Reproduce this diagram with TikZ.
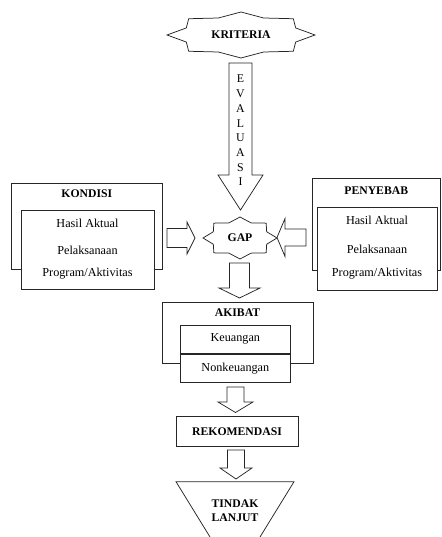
\documentclass[tikz,border=0pt]{standalone}
\usepackage{fontspec}
\setmainfont{Liberation Serif}
\usetikzlibrary{positioning, calc}

\newcommand{\blockarrow}[5]{%
	\coordinate (ba) at ($(#2)!#5!(#1)$);
	\draw[outline] ($(#1)!#3!90:(#2)$) -- ($(ba)!#3!90:(#2)$) -- ($(ba)!#4!90:(#2)$) -- (#2)
	-- ($(ba)!#4!-90:(#2)$) -- ($(ba)!#3!-90:(#2)$) -- ($(#1)!#3!-90:(#2)$) -- cycle;}

\newcommand{\eightstar}[4]{%
	\draw[outline, fill=none, shift={(#1)}] plot[domain=0:15, samples=16]
	({#2*cos(22.5*\x)*(1-(1-#4)*mod(round(\x),2))}, {#3*sin(22.5*\x)*(1-(1-#4)*mod(round(\x),2))}) -- cycle;}

\begin{document}
\begin{tikzpicture}[x=1pt, y=1pt,
	outline/.style={draw=black!85, line width=0.75pt, fill=white, line join=miter},
	frame/.style={outline, inner sep=0pt},
	head/.style={font=\fontsize{11.7}{14}\selectfont\bfseries},
	entry/.style={font=\fontsize{12.2}{14}\selectfont}]

	\useasboundingbox (0,0) rectangle (441,-537);

	\node[head] (kriteria) at (241,-35) {KRITERIA};
	\eightstar{kriteria}{74}{23}{0.8}

	\node[head] (gap) at (240,-238) {GAP};
	\eightstar{gap}{37}{21}{0.78}

	\coordinate (e-tail) at (240.5,-63);
	\coordinate (e-tip) at (240.5,-210);
	\blockarrow{e-tail}{e-tip}{11.5pt}{22.5pt}{35pt}
	\node[entry, align=center, font=\fontsize{11.8}{14.7}\selectfont] (evaluasi) at (240.5,-130.5) {E\\V\\A\\L\\U\\A\\S\\I};

	\node[frame, minimum width=150.3, minimum height=86.3] (kondisi) at (86.85,-226.15) {};
	\node[head] (kondisi-t) at (86.85,-194) {KONDISI};
	\node[frame, minimum width=133, minimum height=78.3] (kondisi-in) at (87.5,-249.85) {};
	\node[entry] (k1) at (87.5,-223) {Hasil Aktual};
	\node[entry] (k2) at (87.5,-250) {Pelaksanaan};
	\node[entry] (k3) at (87.5,-274) {Program/Aktivitas};

	\node[frame, minimum width=128.5, minimum height=92] (penyebab) at (376.25,-224) {};
	\node[head] (penyebab-t) at (376.25,-190.7) {PENYEBAB};
	\node[frame, minimum width=120, minimum height=82.3] (penyebab-in) at (377,-248.85) {};
	\node[entry] (p1) at (377,-220) {Hasil Aktual};
	\node[entry] (p2) at (377,-249) {Pelaksanaan};
	\node[entry] (p3) at (377,-274) {Program/Aktivitas};

	\coordinate (l-tail) at (167,-238);
	\coordinate (l-tip) at (195,-238);
	\blockarrow{l-tail}{l-tip}{9.5pt}{16pt}{8pt}

	\coordinate (r-tail) at (306,-237.5);
	\coordinate (r-tip) at (277,-237.5);
	\blockarrow{r-tail}{r-tip}{8.5pt}{19pt}{8pt}

	\coordinate (g-tail) at (239.5,-263);
	\coordinate (g-tip) at (239.5,-298);
	\blockarrow{g-tail}{g-tip}{10pt}{20.5pt}{10pt}

	\node[frame, minimum width=150.3, minimum height=61] (akibat) at (237.85,-332.5) {};
	\node[head] (akibat-t) at (237.5,-313) {AKIBAT};
	\node[frame, entry, minimum width=110.7, minimum height=28.3] (keuangan) at (235.35,-339.15) {Keuangan};
	\node[frame, entry, minimum width=110.7, minimum height=28.3, below=0pt of keuangan] (nonkeuangan) {Nonkeuangan};

	\coordinate (a-tail) at (235.5,-387);
	\coordinate (a-tip) at (235.5,-412.5);
	\blockarrow{a-tail}{a-tip}{8.5pt}{17.5pt}{10.5pt}

	\node[frame, head, minimum width=122, minimum height=30.7] (rekomendasi) at (237,-431.35) {REKOMENDASI};

	\coordinate (m-tail) at (236,-450);
	\coordinate (m-tip) at (236,-479);
	\blockarrow{m-tail}{m-tip}{8.5pt}{16pt}{11pt}

	\node[head, align=center] (tindak) at (235,-511) {TINDAK\\LANJUT};
	\draw[outline, fill=none] (210,-537) -- (176,-481.7) -- (294,-481.7) -- (260,-537);

\end{tikzpicture}
\end{document}
